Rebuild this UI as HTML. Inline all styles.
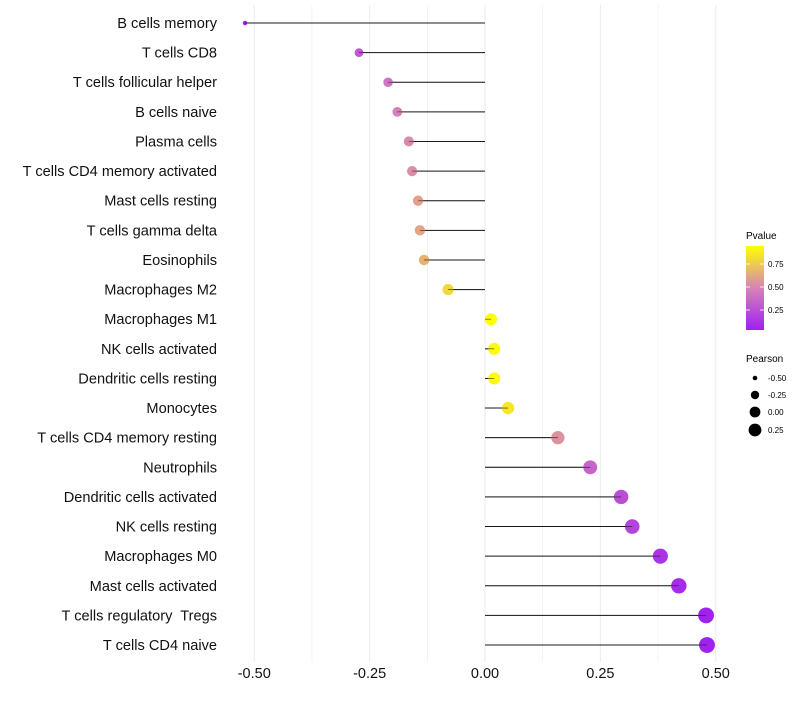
<!DOCTYPE html>
<html><head><meta charset="utf-8"><style>
body{margin:0;background:#fff;font-family:"Liberation Sans",sans-serif}
text{white-space:pre}
</style></head><body>
<svg id="chart" width="800" height="700" xmlns="http://www.w3.org/2000/svg" font-family="Liberation Sans, sans-serif">
<defs><linearGradient id="pg" x1="0" y1="1" x2="0" y2="0">
<stop offset="0" stop-color="#a020f0"/><stop offset="0.5" stop-color="#d783b8"/><stop offset="1" stop-color="#ffff00"/></linearGradient></defs>
<g id="grid"></g><g id="marks"></g><g id="labels"></g>
<g>
<text x="746" y="239" font-size="10">Pvalue</text>
<rect x="746" y="246" width="18" height="84" fill="url(#pg)"/>
<g stroke="#fff" stroke-width="0.8"><line x1="746" y1="264" x2="750" y2="264"/><line x1="760" y1="264" x2="764" y2="264"/><line x1="746" y1="287" x2="750" y2="287"/><line x1="760" y1="287" x2="764" y2="287"/><line x1="746" y1="310" x2="750" y2="310"/><line x1="760" y1="310" x2="764" y2="310"/></g>
<text x="768" y="267" font-size="8">0.75</text><text x="768" y="290" font-size="8">0.50</text><text x="768" y="313" font-size="8">0.25</text>
</g>
<g>
<text x="746" y="362" font-size="10">Pearson</text>
<circle cx="755" cy="378" r="2.3"/><text x="768" y="381" font-size="8">-0.50</text>
<circle cx="755" cy="395" r="4.2"/><text x="768" y="398" font-size="8">-0.25</text>
<circle cx="755" cy="412" r="5.4"/><text x="768" y="415" font-size="8">0.00</text>
<circle cx="755" cy="430" r="6.4"/><text x="768" y="433" font-size="8">0.25</text>
</g>
</svg>
<script>
const categories=["B cells memory","T cells CD8","T cells follicular helper","B cells naive","Plasma cells","T cells CD4 memory activated","Mast cells resting","T cells gamma delta","Eosinophils","Macrophages M2","Macrophages M1","NK cells activated","Dendritic cells resting","Monocytes","T cells CD4 memory resting","Neutrophils","Dendritic cells activated","NK cells resting","Macrophages M0","Mast cells activated","T cells regulatory  Tregs","T cells CD4 naive"];
const pearson=[-0.52,-0.273,-0.21,-0.19,-0.165,-0.158,-0.145,-0.141,-0.132,-0.08,0.013,0.02,0.02,0.05,0.158,0.228,0.295,0.319,0.38,0.42,0.479,0.481];
const pvalues=[0.03,0.3,0.42,0.48,0.52,0.53,0.6,0.62,0.67,0.8,0.97,0.94,0.94,0.86,0.55,0.35,0.25,0.2,0.12,0.08,0.04,0.04];
const ticks=[-0.5,-0.25,0,0.25,0.5];
const tickLabels=["-0.50","-0.25","0.00","0.25","0.50"];
const NS="http://www.w3.org/2000/svg";
const x=v=>485+v*461.5;
const y=i=>23+i*29.62;
const rad=p=>Math.sqrt(Math.max(3.5,5+(p+0.52)*58));
function lerp(a,b,t){return a+(b-a)*t}
function col(p){const t=Math.min(1,Math.max(0,(p-0.03)/0.92));
 const s=[[160,32,240],[215,131,184],[255,255,0]];let a,b,u;
 if(t<0.5){a=s[0];b=s[1];u=t/0.5}else{a=s[1];b=s[2];u=(t-0.5)/0.5}
 return `rgb(${a.map((c,k)=>Math.round(lerp(c,b[k],u))).join(',')})`;}
function mk(tag,at,parent){const e=document.createElementNS(NS,tag);for(const k in at)e.setAttribute(k,at[k]);document.getElementById(parent).appendChild(e);return e;}
for(let v=-0.5;v<=0.5001;v+=0.125){const l=mk('line',{x1:x(v),x2:x(v),y1:5,y2:662,stroke:'#ebebeb','stroke-width':Math.abs(v*4-Math.round(v*4))<0.01?1:0.6},'grid');

}
ticks.forEach((t,i)=>{const e=mk('text',{x:x(t),y:678,'font-size':14.5,'text-anchor':'middle',fill:'#111'},'labels');e.textContent=tickLabels[i];

});
categories.forEach((c,i)=>{
 const t=mk('text',{x:217,y:y(i)+5,'font-size':14.6,'text-anchor':'end',fill:'#111'},'labels');t.textContent=c;
 
 
 const l=mk('line',{x1:x(0),x2:x(pearson[i]),y1:y(i),y2:y(i),stroke:'#333','stroke-width':1},'marks');
 
 
 const d=mk('circle',{cx:x(pearson[i]),cy:y(i),r:rad(pearson[i]),fill:col(pvalues[i])},'marks');
 
 
 const l2=mk('line',{x1:x(0),x2:x(pearson[i]),y1:y(i),y2:y(i),stroke:'#000','stroke-width':0.8,'stroke-opacity':0.6},'marks');
 
 
});
</script>
</body></html>
